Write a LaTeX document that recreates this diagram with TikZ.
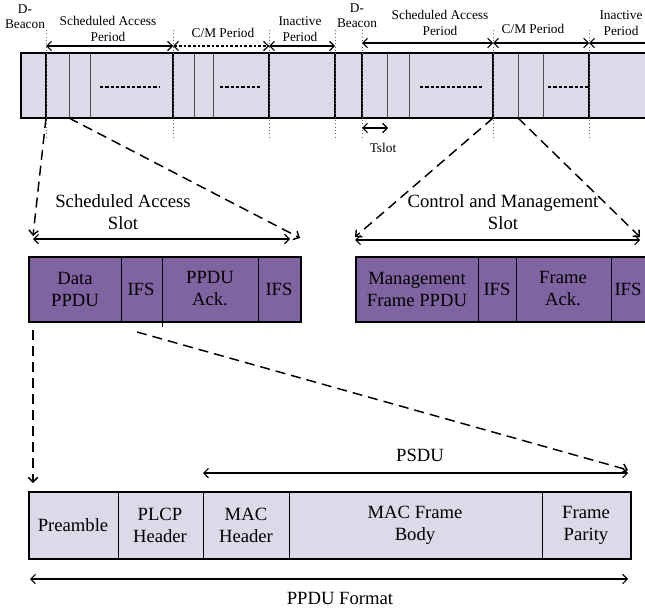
\documentclass[tikz,border=0pt]{standalone}
\usepackage{fontspec}
\setmainfont{Liberation Serif}
\usetikzlibrary{arrows.meta}
\definecolor{lav}{RGB}{221,217,232}
\definecolor{slotpurple}{RGB}{128,100,162}

\begin{document}
\begin{tikzpicture}[x=0.75pt,y=-0.75pt,
  >={Straight Barb[length=3.5pt,width=7pt]},
  big/.style={font=\fontsize{14}{16.5}\selectfont, align=center, inner sep=0pt},
  small/.style={font=\fontsize{10}{11.5}\selectfont, align=center, inner sep=0pt},
  thickline/.style={line width=1.6pt},
  thinline/.style={line width=0.6pt, black!70},
  guide/.style={dotted, line width=0.5pt, black!60},
  zoomline/.style={dash pattern=on 7.5pt off 4.5pt, line width=1.1pt, ->},
  span/.style={<->, line width=0.8pt}]

\useasboundingbox (0,0) rectangle (645,610);
\clip (0,0) rectangle (645,610);

% superframe bar
\fill[lav] (21,53) rectangle (660,118);
\foreach \x in {69,90,194,213,387,409,518,543}
  \draw[thinline] (\x,53) -- (\x,118);
\foreach \x in {46,173,269,335,362,493,589}
  \draw[thickline] (\x,53) -- (\x,118);
\draw[thickline] (21,53) rectangle (660,118);

% dotted guides
\foreach \x in {46,173,269,335,362,493,589}
  \draw[guide] (\x,30) -- (\x,140);

% dots in the slots
\foreach \a/\b in {100/160,220/260,420/482,548/589}
  \draw[line width=0.9pt, dash pattern=on 2.5pt off 1.5pt] (\a,87) -- (\b,87);

% period labels
\node[small] (db1) at (25,17) {D-\\Beacon};
\node[small] (sap1) at (108,29) {Scheduled Access\\Period};
\node[small] (cm1) at (223,33) {C/M Period};
\node[small] (ip1) at (300,29) {Inactive\\Period};
\node[small] (db2) at (357,16) {D-\\Beacon};
\node[small] (sap2) at (440,23) {Scheduled Access\\Period};
\node[small] (cm2) at (533,29) {C/M Period};
\node[small] (ip2) at (621,23) {Inactive\\Period};

% period arrows
\coordinate (p1) at (46,46);
\coordinate (p2) at (173,46);
\coordinate (p3) at (269,46);
\coordinate (p4) at (335,46);
\coordinate (q1) at (362,43);
\coordinate (q2) at (493,43);
\coordinate (q3) at (589,43);
\coordinate (q4) at (660,43);
\draw[span] (p1) -- (p2);
\draw[span, dash pattern=on 2pt off 1.5pt] (p2) -- (p3);
\draw[span] (p3) -- (p4);
\draw[span] (q1) -- (q2);
\draw[span] (q2) -- (q3);
\draw[span] (q3) -- (q4);

% slot length
\coordinate (t1) at (362,128);
\coordinate (t2) at (388,128);
\draw[span] (t1) -- (t2);
\node[small] (tslot) at (383,148) {Tslot};

% zoom into the slots
\coordinate (z1) at (46,118);
\coordinate (z2) at (69,118);
\coordinate (z3) at (493,118);
\coordinate (z4) at (518,118);
\coordinate (z1e) at (33,236);
\coordinate (z2e) at (300,238);
\coordinate (z3e) at (355,237);
\coordinate (z4e) at (640,237);
\draw[zoomline] (z1) -- (z1e);
\draw[zoomline] (z2) -- (z2e);
\draw[zoomline] (z3) -- (z3e);
\draw[zoomline] (z4) -- (z4e);

\node[big] (sas) at (123,212) {Scheduled Access\\Slot};
\node[big] (cms) at (503,212) {Control and Management\\Slot};
\coordinate (s1) at (33,239);
\coordinate (s2) at (290,239);
\coordinate (s3) at (355,240);
\coordinate (s4) at (640,240);
\draw[span] (s1) -- (s2);
\draw[span] (s3) -- (s4);

% scheduled access slot
\filldraw[fill=slotpurple, line width=1.8pt] (29,257) rectangle (301,322);
\foreach \x in {121,258}
  \draw[line width=0.6pt] (\x,257) -- (\x,322);
\draw[line width=0.6pt] (162,257) -- (162,327);
\node[big] (data) at (75,289) {Data\\PPDU};
\node[big] (ifs1) at (141,289) {IFS};
\node[big] (ack1) at (210,289) {PPDU\\Ack.};
\node[big] (ifs2) at (279,289) {IFS};

% control and management slot
\filldraw[fill=slotpurple, line width=1.8pt] (356,257) rectangle (660,322);
\foreach \x in {478,516,611}
  \draw[line width=0.6pt] (\x,257) -- (\x,322);
\node[big] (mgmt) at (417,289) {Management\\Frame PPDU};
\node[big] (ifs3) at (497,289) {IFS};
\node[big] (ack2) at (563,289) {Frame\\Ack.};
\node[big] (ifs4) at (628,289) {IFS};

% zoom into the PPDU
\coordinate (d1) at (33,330);
\coordinate (d1e) at (33,483);
\coordinate (d2) at (137,332);
\coordinate (d2e) at (628,470);
\draw[zoomline] (d1) -- (d1e);
\draw[zoomline] (d2) -- (d2e);

% PPDU format
\filldraw[fill=lav, line width=1.8pt] (29,492) rectangle (631,559);
\foreach \x in {118,203,289,542}
  \draw[line width=0.6pt] (\x,492) -- (\x,559);
\node[big] (pre) at (73,525) {Preamble};
\node[big] (plcp) at (160,525) {PLCP\\Header};
\node[big] (mach) at (246,525) {MAC\\Header};
\node[big] (body) at (415,525) {MAC Frame\\Body};
\node[big] (par) at (586,525) {Frame\\Parity};

\coordinate (u1) at (203,473);
\coordinate (u2) at (628,473);
\draw[span] (u1) -- (u2);
\node[big] (psdu) at (420,455) {PSDU};

\coordinate (f1) at (30,579);
\coordinate (f2) at (628,579);
\draw[span] (f1) -- (f2);
\node[big] (ppdu) at (340,598) {PPDU Format};

\end{tikzpicture}
\end{document}
